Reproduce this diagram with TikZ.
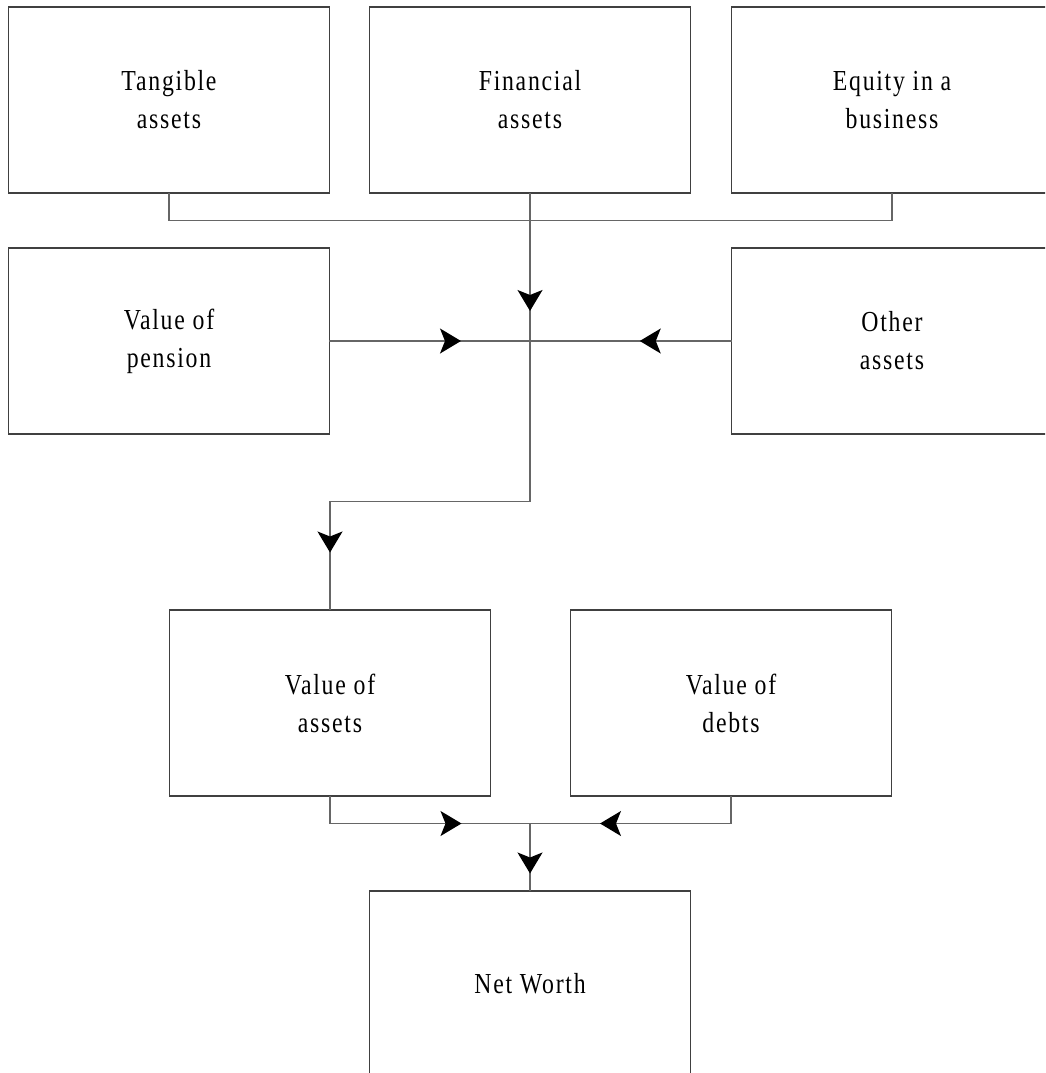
\documentclass[tikz,border=0pt]{standalone}
\usepackage{fontspec}
\setmainfont{Liberation Serif}[FakeStretch=0.82, LetterSpace=6]
\usetikzlibrary{arrows.meta,decorations.markings}

\tikzset{
  box/.style={draw=black!75, line width=1.2pt, rectangle, inner sep=0pt, outer sep=0pt,
    minimum width=320.5pt, minimum height=186pt, align=center,
    font=\fontsize{29}{38}\selectfont},
  conn/.style={draw=black!60, line width=1.3pt},
  tipat/.style={postaction={decorate}, decoration={markings,
    mark=at position #1 with {\arrow{Stealth[length=21pt,width=25pt,inset=5pt,black]}}}}
}

\begin{document}
\begin{tikzpicture}[x=1pt, y=-1pt]
  \useasboundingbox (0,0) rectangle (1045,1073);
  \clip (0,0) rectangle (1045,1073);

  % asset boxes
  \node[box] (tang) at (169,100) {Tangible\\assets};
  \node[box] (fin)  at (530,100) {Financial\\assets};
  \node[box] (eq)   at (892,100) {Equity in a\\business};
  \node[box] (pen)  at (169,341) {Value of\\pension};
  \node[box] (oth)  at (892,341) {Other\\assets};

  % totals
  \node[box] (ass)  at (330,703) {Value of\\assets};
  \node[box] (debt) at (731,703) {Value of\\debts};
  \node[box] (net)  at (530,984) {Net Worth};

  % junction points
  \coordinate (J) at (530,341);
  \coordinate (bend) at (530,501.5);
  \coordinate (K) at (530,823.5);

  % top row gathered into one line
  \draw[conn] (tang.south) -- ++(0,27.5) -| (eq.south);
  \draw[conn, tipat=118pt] (fin.south) -- (J);
  \draw[conn, tipat=131.75pt] (pen.east) -- (J);
  \draw[conn, tipat=92pt] (oth.west) -- (J);
  \draw[conn, tipat=411.5pt] (J) -- (bend) -| (ass.north);

  % assets and debts into net worth
  \draw[conn, tipat=159pt] (ass.south) -- ++(0,27.5) -- (K);
  \draw[conn, tipat=158.5pt] (debt.south) -- ++(0,27.5) -- (K);
  \draw[conn, tipat=50pt] (K) -- (net.north);
\end{tikzpicture}
\end{document}
